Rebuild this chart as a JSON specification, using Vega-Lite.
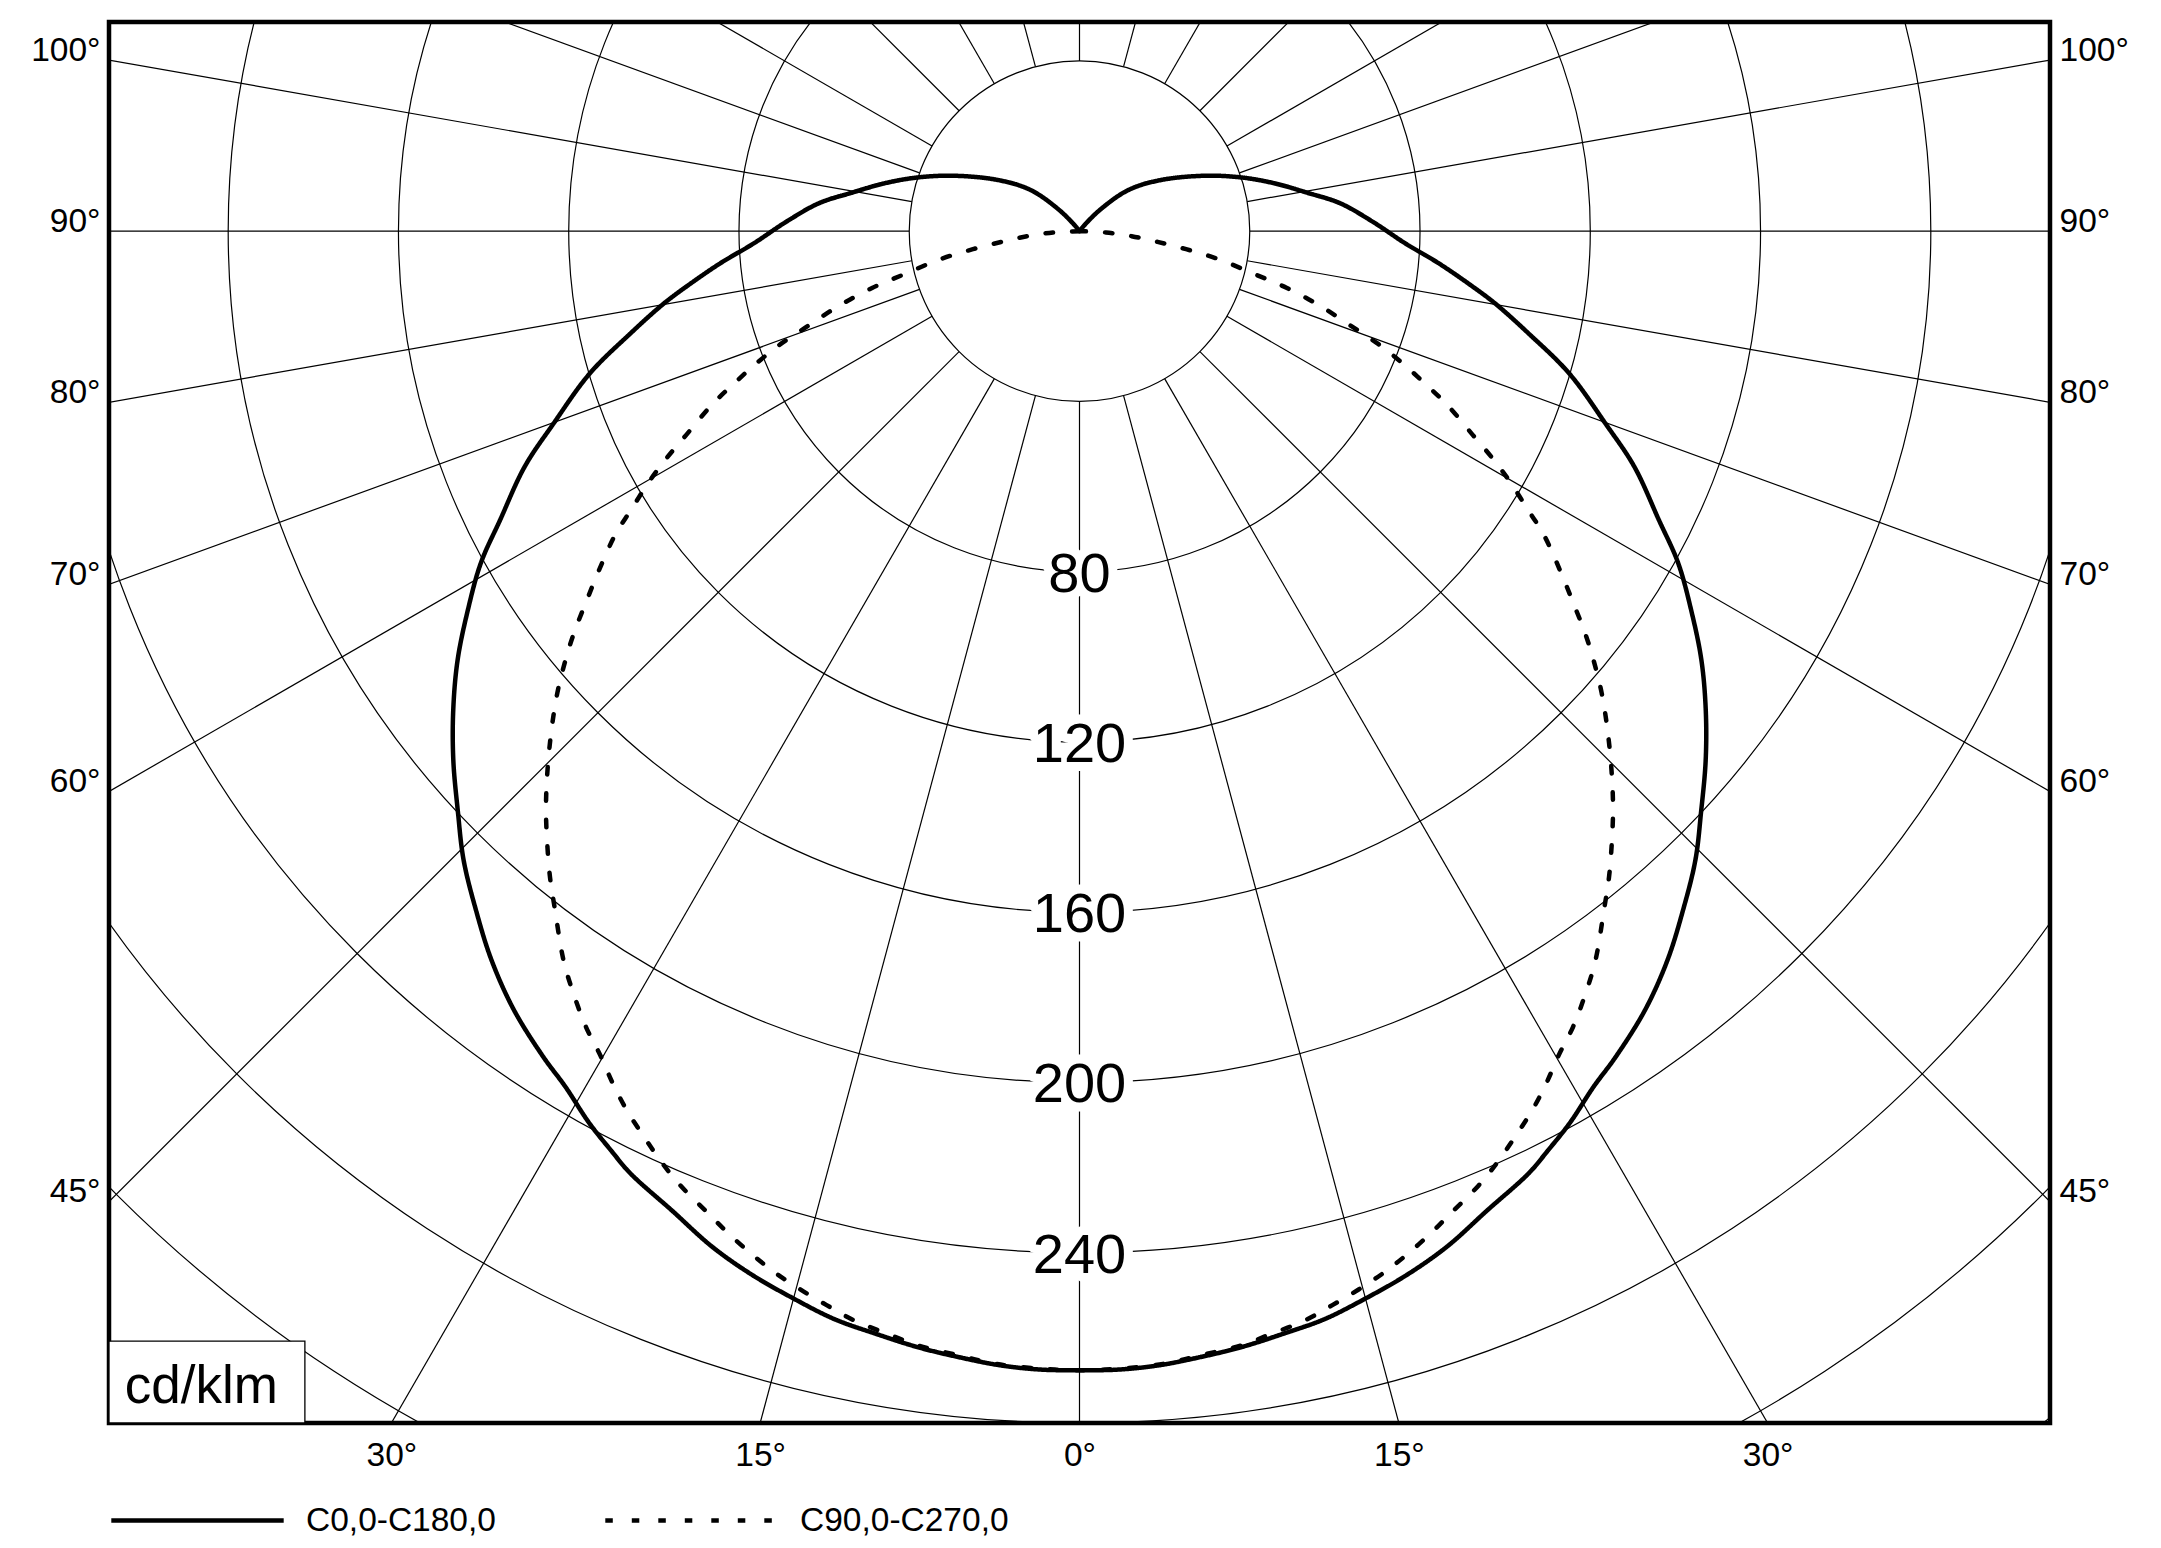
{
  "$schema": "https://vega.github.io/schema/vega-lite/v6.json",
  "width": 1941,
  "height": 1401,
  "autosize": "none",
  "padding": {"left": 109, "top": 22, "right": 111, "bottom": 125},
  "background": "white",
  "config": {
    "view": {"stroke": "black", "strokeWidth": 4.5},
    "text": {"font": "Liberation Sans"},
    "axis": {"labelFont": "Liberation Sans", "labelColor": "black", "labelFontSize": 33.5, "domain": false, "ticks": false, "tickSize": 0, "grid": false, "title": null, "labelFlush": false, "labelOverlap": false, "labelBound": false}
  },
  "datasets": {
    "curves": [
      {"s":"C0,0-C180,0","g":-180,"i":0},{"s":"C0,0-C180,0","g":-141,"i":1.5},{"s":"C0,0-C180,0","g":-136.3,"i":6.8},{"s":"C0,0-C180,0","g":-130.1,"i":15.0},{"s":"C0,0-C180,0","g":-122.1,"i":22.6},{"s":"C0,0-C180,0","g":-113.7,"i":32.4},{"s":"C0,0-C180,0","g":-108.2,"i":40.3},{"s":"C0,0-C180,0","g":-103.7,"i":47.3},{"s":"C0,0-C180,0","g":-99.5,"i":54.4},{"s":"C0,0-C180,0","g":-96.1,"i":61.6},{"s":"C0,0-C180,0","g":-91.8,"i":69.0},{"s":"C0,0-C180,0","g":-87.8,"i":76.7},{"s":"C0,0-C180,0","g":-84.9,"i":84.7},{"s":"C0,0-C180,0","g":-82.1,"i":92.9},{"s":"C0,0-C180,0","g":-80.1,"i":99.2},{"s":"C0,0-C180,0","g":-77.2,"i":108.1},{"s":"C0,0-C180,0","g":-73.8,"i":119.8},{"s":"C0,0-C180,0","g":-69.9,"i":131.6},{"s":"C0,0-C180,0","g":-67,"i":141.6},{"s":"C0,0-C180,0","g":-63.5,"i":152.1},{"s":"C0,0-C180,0","g":-61,"i":160.8},{"s":"C0,0-C180,0","g":-58.2,"i":169.1},{"s":"C0,0-C180,0","g":-55.4,"i":177.5},{"s":"C0,0-C180,0","g":-52.6,"i":185.2},{"s":"C0,0-C180,0","g":-49.8,"i":192.6},{"s":"C0,0-C180,0","g":-47,"i":199.7},{"s":"C0,0-C180,0","g":-44.4,"i":206.8},{"s":"C0,0-C180,0","g":-41.6,"i":213.5},{"s":"C0,0-C180,0","g":-38.9,"i":220.0},{"s":"C0,0-C180,0","g":-36,"i":226.1},{"s":"C0,0-C180,0","g":-33,"i":231.3},{"s":"C0,0-C180,0","g":-31,"i":234.5},{"s":"C0,0-C180,0","g":-28.8,"i":239.1},{"s":"C0,0-C180,0","g":-27,"i":242.4},{"s":"C0,0-C180,0","g":-25.5,"i":245.2},{"s":"C0,0-C180,0","g":-22.6,"i":249.2},{"s":"C0,0-C180,0","g":-19.9,"i":253.7},{"s":"C0,0-C180,0","g":-17.4,"i":257.0},{"s":"C0,0-C180,0","g":-15,"i":259.6},{"s":"C0,0-C180,0","g":-12.7,"i":262.0},{"s":"C0,0-C180,0","g":-10.5,"i":263.4},{"s":"C0,0-C180,0","g":-8.3,"i":264.9},{"s":"C0,0-C180,0","g":-6.2,"i":266.0},{"s":"C0,0-C180,0","g":-4,"i":267.1},{"s":"C0,0-C180,0","g":-2,"i":267.6},
      {"s":"C0,0-C180,0","g":0,"i":267.6},
      {"s":"C0,0-C180,0","g":2,"i":267.6},{"s":"C0,0-C180,0","g":4,"i":267.1},{"s":"C0,0-C180,0","g":6.2,"i":266.0},{"s":"C0,0-C180,0","g":8.3,"i":264.9},{"s":"C0,0-C180,0","g":10.5,"i":263.4},{"s":"C0,0-C180,0","g":12.7,"i":262.0},{"s":"C0,0-C180,0","g":15,"i":259.6},{"s":"C0,0-C180,0","g":17.4,"i":257.0},{"s":"C0,0-C180,0","g":19.9,"i":253.7},{"s":"C0,0-C180,0","g":22.6,"i":249.2},{"s":"C0,0-C180,0","g":25.5,"i":245.2},{"s":"C0,0-C180,0","g":27,"i":242.4},{"s":"C0,0-C180,0","g":28.8,"i":239.1},{"s":"C0,0-C180,0","g":31,"i":234.5},{"s":"C0,0-C180,0","g":33,"i":231.3},{"s":"C0,0-C180,0","g":36,"i":226.1},{"s":"C0,0-C180,0","g":38.9,"i":220.0},{"s":"C0,0-C180,0","g":41.6,"i":213.5},{"s":"C0,0-C180,0","g":44.4,"i":206.8},{"s":"C0,0-C180,0","g":47,"i":199.7},{"s":"C0,0-C180,0","g":49.8,"i":192.6},{"s":"C0,0-C180,0","g":52.6,"i":185.2},{"s":"C0,0-C180,0","g":55.4,"i":177.5},{"s":"C0,0-C180,0","g":58.2,"i":169.1},{"s":"C0,0-C180,0","g":61,"i":160.8},{"s":"C0,0-C180,0","g":63.5,"i":152.1},{"s":"C0,0-C180,0","g":67,"i":141.6},{"s":"C0,0-C180,0","g":69.9,"i":131.6},{"s":"C0,0-C180,0","g":73.8,"i":119.8},{"s":"C0,0-C180,0","g":77.2,"i":108.1},{"s":"C0,0-C180,0","g":80.1,"i":99.2},{"s":"C0,0-C180,0","g":82.1,"i":92.9},{"s":"C0,0-C180,0","g":84.9,"i":84.7},{"s":"C0,0-C180,0","g":87.8,"i":76.7},{"s":"C0,0-C180,0","g":91.8,"i":69.0},{"s":"C0,0-C180,0","g":96.1,"i":61.6},{"s":"C0,0-C180,0","g":99.5,"i":54.4},{"s":"C0,0-C180,0","g":103.7,"i":47.3},{"s":"C0,0-C180,0","g":108.2,"i":40.3},{"s":"C0,0-C180,0","g":113.7,"i":32.4},{"s":"C0,0-C180,0","g":122.1,"i":22.6},{"s":"C0,0-C180,0","g":130.1,"i":15.0},{"s":"C0,0-C180,0","g":136.3,"i":6.8},{"s":"C0,0-C180,0","g":141,"i":1.5},{"s":"C0,0-C180,0","g":180,"i":0},
      {"s":"C90,0-C270,0","g":-90,"i":0},{"s":"C90,0-C270,0","g":-87.2,"i":6.2},{"s":"C90,0-C270,0","g":-84.5,"i":12.3},{"s":"C90,0-C270,0","g":-82.2,"i":18.5},{"s":"C90,0-C270,0","g":-80.4,"i":25.4},{"s":"C90,0-C270,0","g":-78.6,"i":33.4},{"s":"C90,0-C270,0","g":-76.3,"i":41.9},{"s":"C90,0-C270,0","g":-74.7,"i":50.4},{"s":"C90,0-C270,0","g":-72.7,"i":59.4},{"s":"C90,0-C270,0","g":-70.6,"i":68.3},{"s":"C90,0-C270,0","g":-69.3,"i":75.1},{"s":"C90,0-C270,0","g":-67.8,"i":81.8},{"s":"C90,0-C270,0","g":-66.2,"i":88.7},{"s":"C90,0-C270,0","g":-64.7,"i":95.6},{"s":"C90,0-C270,0","g":-62.6,"i":104.1},{"s":"C90,0-C270,0","g":-61.2,"i":110.7},{"s":"C90,0-C270,0","g":-59.8,"i":117.0},{"s":"C90,0-C270,0","g":-58.2,"i":123.8},{"s":"C90,0-C270,0","g":-56.8,"i":130.4},{"s":"C90,0-C270,0","g":-54.7,"i":138.5},{"s":"C90,0-C270,0","g":-53,"i":145.3},{"s":"C90,0-C270,0","g":-51.5,"i":151.8},{"s":"C90,0-C270,0","g":-50.15,"i":157.3},{"s":"C90,0-C270,0","g":-48.5,"i":163.8},{"s":"C90,0-C270,0","g":-46.45,"i":171.3},{"s":"C90,0-C270,0","g":-44.3,"i":179.1},{"s":"C90,0-C270,0","g":-42.65,"i":185.0},{"s":"C90,0-C270,0","g":-41,"i":190.6},{"s":"C90,0-C270,0","g":-39.35,"i":196.2},{"s":"C90,0-C270,0","g":-37.7,"i":201.5},{"s":"C90,0-C270,0","g":-35.3,"i":209.8},{"s":"C90,0-C270,0","g":-33.6,"i":214.9},{"s":"C90,0-C270,0","g":-31.8,"i":220.0},{"s":"C90,0-C270,0","g":-30.2,"i":223.9},{"s":"C90,0-C270,0","g":-28.7,"i":228.3},{"s":"C90,0-C270,0","g":-27.25,"i":232.3},{"s":"C90,0-C270,0","g":-25.8,"i":235.8},{"s":"C90,0-C270,0","g":-24.2,"i":239.7},{"s":"C90,0-C270,0","g":-22.7,"i":243.0},{"s":"C90,0-C270,0","g":-20.7,"i":246.7},{"s":"C90,0-C270,0","g":-19.3,"i":249.5},{"s":"C90,0-C270,0","g":-17.7,"i":252.5},{"s":"C90,0-C270,0","g":-16.3,"i":254.9},{"s":"C90,0-C270,0","g":-14.8,"i":257.1},{"s":"C90,0-C270,0","g":-13.25,"i":259.2},{"s":"C90,0-C270,0","g":-11.7,"i":261.3},{"s":"C90,0-C270,0","g":-9.7,"i":263.1},{"s":"C90,0-C270,0","g":-8.3,"i":264.5},{"s":"C90,0-C270,0","g":-6.2,"i":265.6},{"s":"C90,0-C270,0","g":-4.3,"i":266.8},{"s":"C90,0-C270,0","g":-2,"i":267.4},
      {"s":"C90,0-C270,0","g":0,"i":267.6},
      {"s":"C90,0-C270,0","g":2,"i":267.4},{"s":"C90,0-C270,0","g":4.3,"i":266.8},{"s":"C90,0-C270,0","g":6.2,"i":265.6},{"s":"C90,0-C270,0","g":8.3,"i":264.5},{"s":"C90,0-C270,0","g":9.7,"i":263.1},{"s":"C90,0-C270,0","g":11.7,"i":261.3},{"s":"C90,0-C270,0","g":13.25,"i":259.2},{"s":"C90,0-C270,0","g":14.8,"i":257.1},{"s":"C90,0-C270,0","g":16.3,"i":254.9},{"s":"C90,0-C270,0","g":17.7,"i":252.5},{"s":"C90,0-C270,0","g":19.3,"i":249.5},{"s":"C90,0-C270,0","g":20.7,"i":246.7},{"s":"C90,0-C270,0","g":22.7,"i":243.0},{"s":"C90,0-C270,0","g":24.2,"i":239.7},{"s":"C90,0-C270,0","g":25.8,"i":235.8},{"s":"C90,0-C270,0","g":27.25,"i":232.3},{"s":"C90,0-C270,0","g":28.7,"i":228.3},{"s":"C90,0-C270,0","g":30.2,"i":223.9},{"s":"C90,0-C270,0","g":31.8,"i":220.0},{"s":"C90,0-C270,0","g":33.6,"i":214.9},{"s":"C90,0-C270,0","g":35.3,"i":209.8},{"s":"C90,0-C270,0","g":37.7,"i":201.5},{"s":"C90,0-C270,0","g":39.35,"i":196.2},{"s":"C90,0-C270,0","g":41,"i":190.6},{"s":"C90,0-C270,0","g":42.65,"i":185.0},{"s":"C90,0-C270,0","g":44.3,"i":179.1},{"s":"C90,0-C270,0","g":46.45,"i":171.3},{"s":"C90,0-C270,0","g":48.5,"i":163.8},{"s":"C90,0-C270,0","g":50.15,"i":157.3},{"s":"C90,0-C270,0","g":51.5,"i":151.8},{"s":"C90,0-C270,0","g":53,"i":145.3},{"s":"C90,0-C270,0","g":54.7,"i":138.5},{"s":"C90,0-C270,0","g":56.8,"i":130.4},{"s":"C90,0-C270,0","g":58.2,"i":123.8},{"s":"C90,0-C270,0","g":59.8,"i":117.0},{"s":"C90,0-C270,0","g":61.2,"i":110.7},{"s":"C90,0-C270,0","g":62.6,"i":104.1},{"s":"C90,0-C270,0","g":64.7,"i":95.6},{"s":"C90,0-C270,0","g":66.2,"i":88.7},{"s":"C90,0-C270,0","g":67.8,"i":81.8},{"s":"C90,0-C270,0","g":69.3,"i":75.1},{"s":"C90,0-C270,0","g":70.6,"i":68.3},{"s":"C90,0-C270,0","g":72.7,"i":59.4},{"s":"C90,0-C270,0","g":74.7,"i":50.4},{"s":"C90,0-C270,0","g":76.3,"i":41.9},{"s":"C90,0-C270,0","g":78.6,"i":33.4},{"s":"C90,0-C270,0","g":80.4,"i":25.4},{"s":"C90,0-C270,0","g":82.2,"i":18.5},{"s":"C90,0-C270,0","g":84.5,"i":12.3},{"s":"C90,0-C270,0","g":87.2,"i":6.2},{"s":"C90,0-C270,0","g":90,"i":0}
    ],
    "spokes": [
      {"g":-165},{"g":-150},{"g":-135},{"g":-120},{"g":-110},{"g":-100},{"g":-90},{"g":-80},{"g":-70},{"g":-60},{"g":-45},{"g":-30},{"g":-15},{"g":0},{"g":15},{"g":30},{"g":45},{"g":60},{"g":70},{"g":80},{"g":90},{"g":100},{"g":110},{"g":120},{"g":135},{"g":150},{"g":165},{"g":180}
    ],
    "rings": [{"r":40},{"r":80},{"r":120},{"r":160},{"r":200},{"r":240},{"r":280},{"r":320},{"r":360}],
    "rlabels": [{"v":80},{"v":120},{"v":160},{"v":200},{"v":240}]
  },
  "resolve": {"axis": {"x": "independent", "y": "independent"}},
  "layer": [
    {
      "data": {"name": "rings"},
      "mark": {"type": "arc", "theta": 0, "theta2": 6.2832, "filled": false, "stroke": "black", "strokeWidth": 1.2, "clip": true},
      "encoding": {
        "x": {"datum": 0, "type": "quantitative", "scale": {"domain": [-228, 228], "nice": false, "zero": false}, "axis": null},
        "y": {"datum": 0, "type": "quantitative", "scale": {"domain": [-280, 49.14], "nice": false, "zero": false}, "axis": null},
        "radius": {"field": "r", "type": "quantitative", "stack": null, "scale": {"type": "linear", "domain": [0, 228], "range": [0, 970.5], "zero": true}}
      }
    },
    {
      "data": {"name": "spokes"},
      "transform": [
        {"calculate": "40*sin(datum.g*PI/180)", "as": "x0"},
        {"calculate": "-40*cos(datum.g*PI/180)", "as": "y0"},
        {"calculate": "420*sin(datum.g*PI/180)", "as": "x1"},
        {"calculate": "-420*cos(datum.g*PI/180)", "as": "y1"}
      ],
      "mark": {"type": "rule", "stroke": "black", "strokeWidth": 1.2, "clip": true},
      "encoding": {
        "x": {"field": "x0", "type": "quantitative", "scale": {"domain": [-228, 228], "nice": false, "zero": false}, "axis": null},
        "y": {"field": "y0", "type": "quantitative", "scale": {"domain": [-280, 49.14], "nice": false, "zero": false}, "axis": null},
        "x2": {"field": "x1"},
        "y2": {"field": "y1"}
      }
    },
    {
      "data": {"values": [{"t": "cd/klm"}]},
      "mark": {"type": "rect", "fill": "white", "stroke": "black", "strokeWidth": 1.3},
      "encoding": {
        "x": {"datum": -228, "type": "quantitative", "scale": {"domain": [-228, 228], "nice": false, "zero": false}, "axis": null},
        "x2": {"datum": -181.98},
        "y": {"datum": -280, "type": "quantitative", "scale": {"domain": [-280, 49.14], "nice": false, "zero": false},
          "axis": {"orient": "right", "values": [40.2, 0, -40.2, -83, -131.64, -228], "labelExpr": "datum.value > 20 ? '100°' : datum.value > -20 ? '90°' : datum.value > -60 ? '80°' : datum.value > -100 ? '70°' : datum.value > -180 ? '60°' : '45°'", "labelBaseline": "alphabetic", "labelPadding": 9, "labelAlign": "left"}},
        "y2": {"datum": -260.77}
      }
    },
    {
      "data": {"values": [{"t": "cd/klm"}]},
      "mark": {"type": "text", "fontSize": 53, "align": "left", "baseline": "alphabetic", "color": "black"},
      "encoding": {
        "x": {"datum": -224.3, "type": "quantitative", "scale": {"domain": [-228, 228], "nice": false, "zero": false}, "axis": null},
        "y": {"datum": -275.2, "type": "quantitative", "scale": {"domain": [-280, 49.14], "nice": false, "zero": false}, "axis": null},
        "text": {"field": "t"}
      }
    },
    {
      "data": {"name": "rlabels"},
      "transform": [{"calculate": "-datum.v", "as": "ny"}],
      "mark": {"type": "text", "fontSize": 56, "align": "center", "baseline": "alphabetic", "dy": 20, "fill": "white", "stroke": "white", "strokeWidth": 18, "strokeJoin": "round"},
      "encoding": {
        "x": {"datum": 0, "type": "quantitative", "scale": {"domain": [-228, 228], "nice": false, "zero": false}, "axis": null},
        "y": {"field": "ny", "type": "quantitative", "scale": {"domain": [-280, 49.14], "nice": false, "zero": false}, "axis": null},
        "text": {"field": "v"}
      }
    },
    {
      "data": {"name": "rlabels"},
      "transform": [{"calculate": "-datum.v", "as": "ny"}],
      "mark": {"type": "text", "fontSize": 56, "align": "center", "baseline": "alphabetic", "dy": 20, "fill": "black"},
      "encoding": {
        "x": {"datum": 0, "type": "quantitative", "scale": {"domain": [-228, 228], "nice": false, "zero": false}, "axis": null},
        "y": {"field": "ny", "type": "quantitative", "scale": {"domain": [-280, 49.14], "nice": false, "zero": false}, "axis": null},
        "text": {"field": "v"}
      }
    },
    {
      "data": {"name": "curves"},
      "transform": [
        {"calculate": "datum.i*sin(datum.g*PI/180)", "as": "x"},
        {"calculate": "-datum.i*cos(datum.g*PI/180)", "as": "y"}
      ],
      "mark": {"type": "line", "stroke": "black", "strokeWidth": 4.5, "strokeCap": "round", "strokeJoin": "round", "interpolate": "catmull-rom", "clip": true},
      "encoding": {
        "x": {"field": "x", "type": "quantitative", "scale": {"domain": [-228, 228], "nice": false, "zero": false},
          "axis": {"orient": "bottom", "values": [-161.66, -75.03, 0, 75.03, 161.66], "labelExpr": "abs(datum.value) > 100 ? '30°' : abs(datum.value) > 30 ? '15°' : '0°'", "labelBaseline": "alphabetic", "labelPadding": 42, "labelAlign": "center"}},
        "y": {"field": "y", "type": "quantitative", "scale": {"domain": [-280, 49.14], "nice": false, "zero": false},
          "axis": {"orient": "left", "values": [40.2, 0, -40.2, -83, -131.64, -228], "labelExpr": "datum.value > 20 ? '100°' : datum.value > -20 ? '90°' : datum.value > -60 ? '80°' : datum.value > -100 ? '70°' : datum.value > -180 ? '60°' : '45°'", "labelBaseline": "alphabetic", "labelPadding": 9, "labelAlign": "right"}},
        "order": {"field": "g", "type": "quantitative"},
        "strokeDash": {"field": "s", "type": "nominal",
          "scale": {"domain": ["C0,0-C180,0", "C90,0-C270,0"], "range": [[1, 0], [7.5, 19]]},
          "legend": {"orient": "none", "legendX": 0, "legendY": 1410, "direction": "horizontal", "title": null, "symbolType": "stroke", "symbolSize": 29722, "symbolStrokeWidth": 4.5, "symbolStrokeColor": "black", "labelFont": "Liberation Sans", "labelFontSize": 33.5, "labelColor": "black", "labelOffset": 20, "columnPadding": 100, "padding": 0, "labelLimit": 0}}
      }
    }
  ]
}
